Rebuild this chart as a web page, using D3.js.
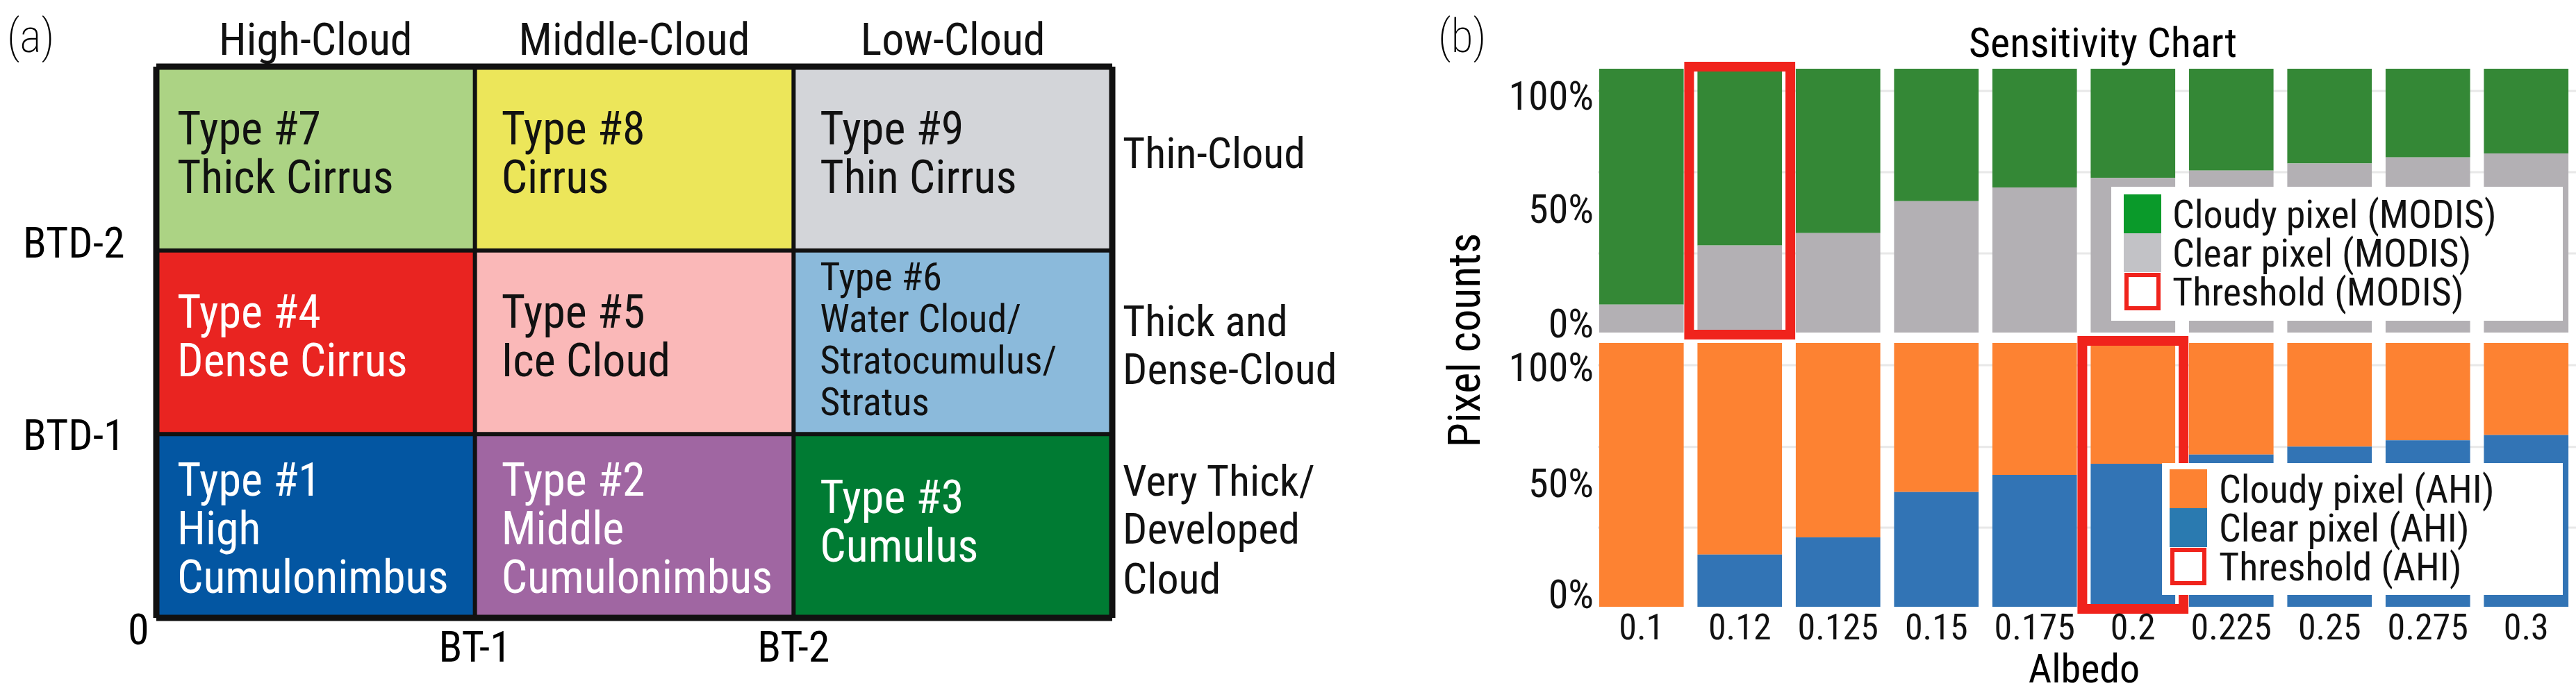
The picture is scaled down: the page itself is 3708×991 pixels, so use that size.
<!DOCTYPE html><html><head><meta charset="utf-8">
<script src="https://cdn.jsdelivr.net/npm/d3@7"></script>
<style>body{margin:0;background:#fff}text{font-family:"Liberation Sans Narrow","Arial Narrow","Roboto Condensed",sans-serif}</style>
</head><body><svg id="c" width="3708" height="991"></svg>
<script>
// Panel (a)
const colHeaders=["High-Cloud","Middle-Cloud","Low-Cloud"];
const rowLabels=[["Thin-Cloud"],["Thick and","Dense-Cloud"],["Very Thick/","Developed","Cloud"]];
const cellLines=[
 [["Type #7","Thick Cirrus"],["Type #8","Cirrus"],["Type #9","Thin Cirrus"]],
 [["Type #4","Dense Cirrus"],["Type #5","Ice Cloud"],["Type #6","Water Cloud/","Stratocumulus/","Stratus"]],
 [["Type #1","High","Cumulonimbus"],["Type #2","Middle","Cumulonimbus"],["Type #3","Cumulus"]]];
const cellColors=[["#acd384","#ece65a","#d3d5d9"],["#e92421","#fab8b8","#8bbadb"],["#0356a2","#a066a2","#007b33"]];
const cellText=[["#111","#111","#111"],["#fff","#111","#111"],["#fff","#fff","#fff"]];
const yTicksA=["BTD-2","BTD-1","0"];
const xTicksA=["BT-1","BT-2"];
// Panel (b)
const albedo=["0.1","0.12","0.125","0.15","0.175","0.2","0.225","0.25","0.275","0.3"];
const modisClear=[0.106,0.33,0.377,0.498,0.55,0.586,0.614,0.641,0.664,0.679];
const ahiClear=[0,0.198,0.263,0.435,0.50,0.542,0.577,0.607,0.631,0.651];
const modisThreshold="0.12", ahiThreshold="0.2";
const pctLabels=["100%","50%","0%"];
const topTickPos=[0.90,0.47,0.036], botTickPos=[0.909,0.471,0.05];
const topGrid=[0.916,0.608,0.300], botGrid=[0.916,0.606,0.30];
const legTop=["Cloudy pixel (MODIS)","Clear pixel (MODIS)","Threshold (MODIS)"];
const legBot=["Cloudy pixel (AHI)","Clear pixel (AHI)","Threshold (AHI)"];

const svg=d3.select("#c");
// ---- panel a
const gx=d3.scaleBand().domain([0,1,2]).range([225,1601]);
const gy=d3.scaleBand().domain([0,1,2]).range([96,890]);
const ga=svg.append("g");
cellColors.forEach((row,r)=>row.forEach((c,k)=>{
  ga.append("rect").attr("x",gx(k)).attr("y",gy(r)).attr("width",gx.bandwidth()).attr("height",gy.bandwidth()).attr("fill",c);
}));
const baseY=[[208,208,208],[472,472,418],[714,714,739]];
cellLines.forEach((row,r)=>row.forEach((lines,k)=>{
  const small=lines.length===4;
  const sp=small?60:70;
  const t=ga.append("text").attr("font-size",small?56:66).attr("fill",cellText[r][k]);
  lines.forEach((l,i)=>t.append("tspan").attr("x",gx(k)+(k===0?30:38)).attr("y",baseY[r][k]+i*sp).text(l));
}));
[0,1,2,3].forEach(i=>{
  const x=i<3?gx(i):gx.range()[1], y=i<3?gy(i):gy.range()[1];
  ga.append("line").attr("x1",x).attr("x2",x).attr("y1",96).attr("y2",890).attr("stroke","#111").attr("stroke-width",i%3===0?9:6);
  ga.append("line").attr("y1",y).attr("y2",y).attr("x1",225).attr("x2",1601).attr("stroke","#111").attr("stroke-width",i%3===0?9:6);
});
colHeaders.forEach((h,k)=>ga.append("text").attr("x",gx(k)+gx.bandwidth()/2).attr("y",79).attr("text-anchor","middle").attr("font-size",64).attr("fill","#111").text(h));
const rlY=[[242],[484,553],[714,783,855]];
rowLabels.forEach((ls,r)=>ls.forEach((l,i)=>ga.append("text").attr("x",1616).attr("y",rlY[r][i]).attr("font-size",62).attr("fill","#111").text(l)));
ga.append("text").attr("x",33).attr("y",371).attr("font-size",62).text(yTicksA[0]);
ga.append("text").attr("x",33).attr("y",648).attr("font-size",62).text(yTicksA[1]);
ga.append("text").attr("x",184).attr("y",928).attr("font-size",62).text(yTicksA[2]);
xTicksA.forEach((t,i)=>ga.append("text").attr("x",gx(i+1)).attr("y",953).attr("text-anchor","middle").attr("font-size",62).text(t));
ga.append("text").attr("x",10).attr("y",75).attr("font-size",66).attr("font-family","DejaVu Sans").attr("font-weight",200).text("(a)");
// ---- panel b
const x=d3.scaleBand().domain(albedo).range([2292,3707]).paddingInner(0.14).paddingOuter(0.07);
function panel(y0,y1,clear,cCol,clCol,thr,tickPos,grid){
  const y=d3.scaleLinear().domain([0,1]).range([y1,y0]);
  const g=svg.append("g");
  grid.forEach(v=>g.append("line").attr("x1",2300).attr("x2",3708).attr("y1",y(v)).attr("y2",y(v)).attr("stroke","#e8e8e8").attr("stroke-width",3));
  albedo.forEach((a,i)=>{
    g.append("rect").attr("x",x(a)).attr("width",x.bandwidth()).attr("y",y(1)).attr("height",y(clear[i])-y(1)).attr("fill",cCol);
    g.append("rect").attr("x",x(a)).attr("width",x.bandwidth()).attr("y",y(clear[i])).attr("height",y(0)-y(clear[i])).attr("fill",clCol);
  });
  g.append("rect").attr("x",x(thr)-12).attr("width",x.bandwidth()+24).attr("y",y(1)-3).attr("height",y(0)-y(1)+6).attr("fill","none").attr("stroke","#f0231c").attr("stroke-width",14);
  pctLabels.forEach((l,i)=>g.append("text").attr("x",2294).attr("y",y(tickPos[i])).attr("dy","0.36em").attr("text-anchor","end").attr("font-size",58).attr("fill","#111").text(l));
  return y;
}
panel(99,479,modisClear,"#348836","#b3b0b4",modisThreshold,topTickPos,topGrid);
panel(494,874,ahiClear,"#fd8232","#3274b5",ahiThreshold,botTickPos,botGrid);
function legend(x0,y0,w,h,sx,tx,rows,cols,labels){
  const g=svg.append("g");
  g.append("rect").attr("x",x0).attr("y",y0).attr("width",w).attr("height",h).attr("fill","#fff");
  labels.forEach((l,i)=>{
    if(i<2) g.append("rect").attr("x",sx).attr("y",rows[i]-28).attr("width",54).attr("height",56).attr("fill",cols[i]);
    else g.append("rect").attr("x",sx+4).attr("y",rows[i]-24).attr("width",46).attr("height",48).attr("fill","#fff").attr("stroke","#f0231c").attr("stroke-width",6);
    g.append("text").attr("x",tx).attr("y",rows[i]).attr("dy","0.36em").attr("font-size",56).attr("fill","#111").text(l);
  });
}
legend(3039,269,650,193,3057,3127,[308,364,420],["#0a9a2a","#c2c2c6"],legTop);
legend(3112,667,577,190,3123,3194,[704,760,816],["#fd8232","#2a7ab0"],legBot);
albedo.forEach(a=>svg.append("text").attr("x",x(a)+x.bandwidth()/2).attr("y",902).attr("dy","0.36em").attr("text-anchor","middle").attr("font-size",52).attr("fill","#111").text(a));
svg.append("text").attr("x",3000).attr("y",962).attr("dy","0.36em").attr("text-anchor","middle").attr("font-size",58).text("Albedo");
svg.append("text").attr("transform","translate(2107,490) rotate(-90)").attr("dy","0.36em").attr("text-anchor","middle").attr("font-size",64).attr("font-family","DejaVu Sans").text("Pixel counts");
svg.append("text").attr("x",3027).attr("y",60).attr("dy","0.36em").attr("text-anchor","middle").attr("font-size",60).text("Sensitivity Chart");
svg.append("text").attr("x",2070).attr("y",75).attr("font-size",66).attr("font-family","DejaVu Sans").attr("font-weight",200).text("(b)");
</script></body></html>
